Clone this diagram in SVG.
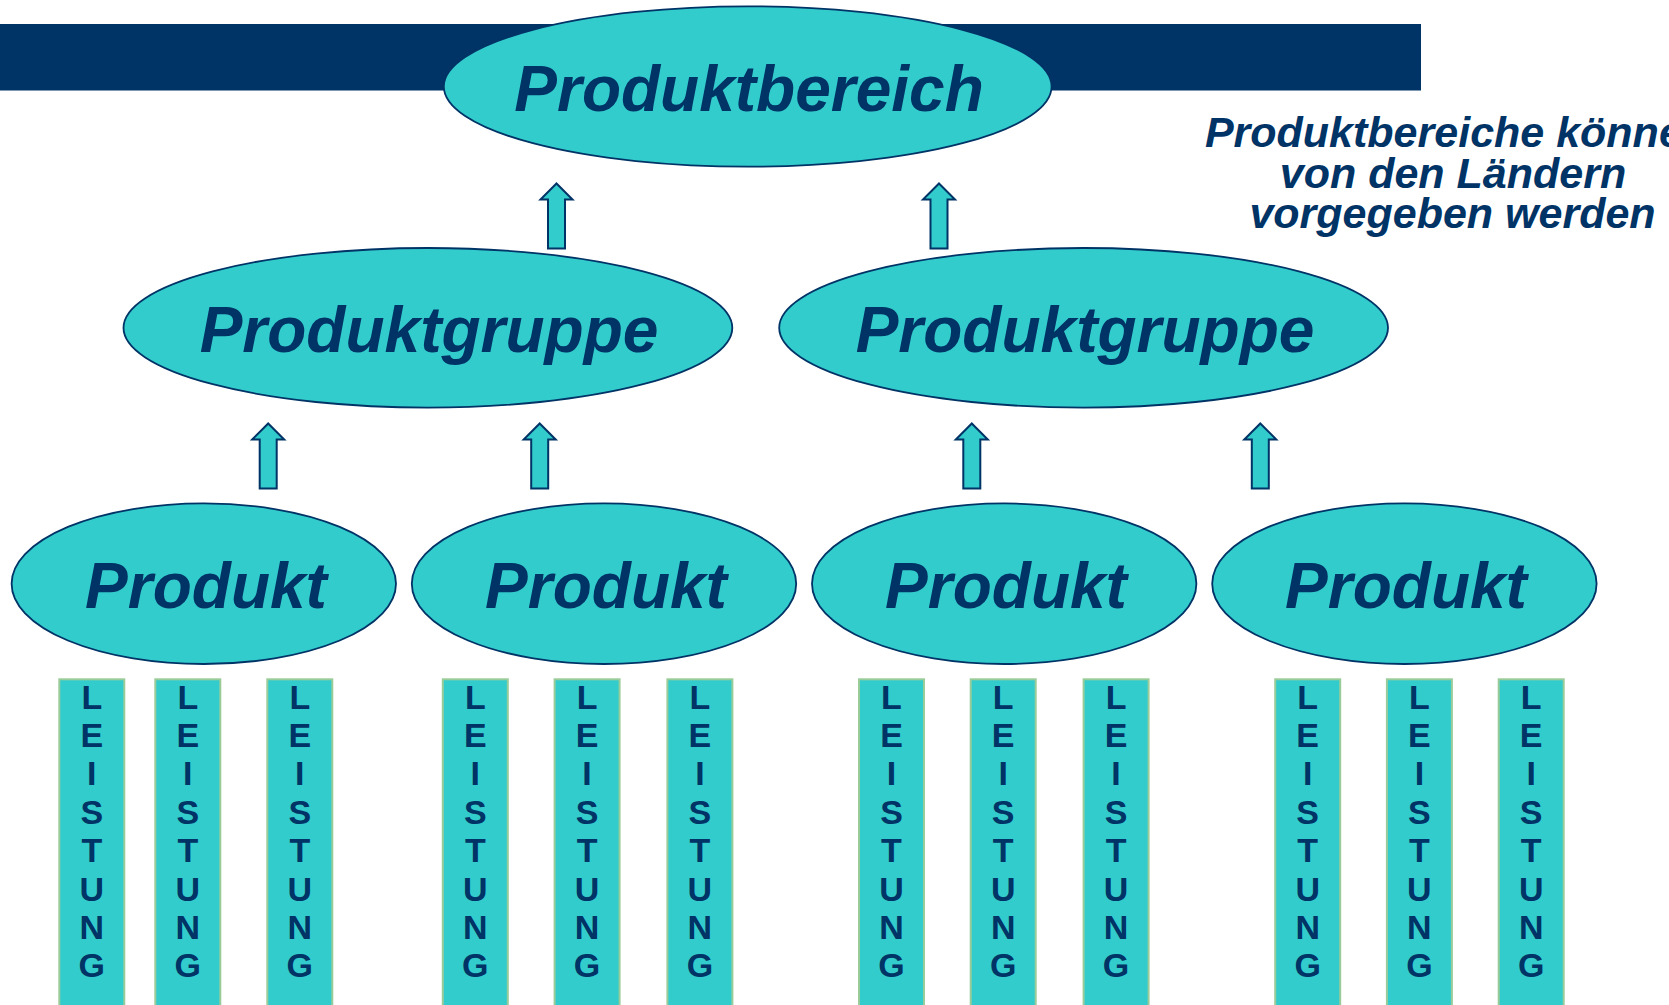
<svg xmlns="http://www.w3.org/2000/svg" width="1669" height="1005" viewBox="0 0 1669 1005">
<style>
.ell{fill:#33CCCC;stroke:#003366;stroke-width:1.8}
.big{font-family:"Liberation Sans",Arial,sans-serif;font-weight:bold;font-style:italic;font-size:64px;fill:#003366;text-anchor:middle}
.note{font-family:"Liberation Sans",Arial,sans-serif;font-weight:bold;font-style:italic;font-size:43px;fill:#003366;text-anchor:middle}
.box{fill:#33CCCC;stroke:#99CC99;stroke-width:2}
.let{font-family:"Liberation Sans",Arial,sans-serif;font-weight:bold;font-size:34px;fill:#003366;text-anchor:middle}
.arr{fill:#33CCCC;stroke:#003366;stroke-width:2;stroke-linejoin:miter}
</style>
<defs>
<path id="arrow" d="M0,0 L16,16 L8.5,16 L8.5,65 L-8.5,65 L-8.5,16 L-16,16 Z"/>
<g id="leistung">
<rect class="box" x="0" y="0" width="65" height="340"/>
<text class="let" x="32.5" y="30">L</text>
<text class="let" x="32.5" y="68">E</text>
<text class="let" x="32.5" y="106">I</text>
<text class="let" x="32.5" y="145">S</text>
<text class="let" x="32.5" y="183">T</text>
<text class="let" x="32.5" y="222">U</text>
<text class="let" x="32.5" y="260">N</text>
<text class="let" x="32.5" y="298">G</text>
</g>
</defs>
<rect id="bar" x="0" y="24" width="1421" height="66.5" fill="#003366"/>
<g id="produktbereich">
<ellipse class="ell" cx="747.7" cy="86.5" rx="303.9" ry="80.2"/>
<text class="big" x="749" y="111">Produktbereich</text>
</g>
<g id="note">
<text class="note" x="1457" y="147">Produktbereiche können</text>
<text class="note" x="1453" y="187.5">von den Ländern</text>
<text class="note" x="1452.5" y="228">vorgegeben werden</text>
</g>
<g id="produktgruppe1">
<ellipse class="ell" cx="427.9" cy="327.8" rx="304.4" ry="79.8"/>
<text class="big" x="429" y="352">Produktgruppe</text>
</g>
<g id="produktgruppe2">
<ellipse class="ell" cx="1083.6" cy="327.8" rx="304.4" ry="79.8"/>
<text class="big" x="1085" y="352">Produktgruppe</text>
</g>
<g id="produkt1">
<ellipse class="ell" cx="203.8" cy="583.7" rx="192.2" ry="80.3"/>
<text class="big" x="206" y="607.7">Produkt</text>
</g>
<g id="produkt2">
<ellipse class="ell" cx="604" cy="583.7" rx="192.2" ry="80.3"/>
<text class="big" x="606" y="607.7">Produkt</text>
</g>
<g id="produkt3">
<ellipse class="ell" cx="1004.2" cy="583.7" rx="192.2" ry="80.3"/>
<text class="big" x="1006" y="607.7">Produkt</text>
</g>
<g id="produkt4">
<ellipse class="ell" cx="1404.4" cy="583.7" rx="192.2" ry="80.3"/>
<text class="big" x="1406" y="607.7">Produkt</text>
</g>
<g id="connectors">
<use href="#arrow" class="arr" x="556.5" y="183.5"/>
<use href="#arrow" class="arr" x="939" y="183.5"/>
<use href="#arrow" class="arr" x="268.2" y="423.5"/>
<use href="#arrow" class="arr" x="539.7" y="423.5"/>
<use href="#arrow" class="arr" x="971.8" y="423.5"/>
<use href="#arrow" class="arr" x="1260.3" y="423.5"/>
</g>
<g id="leistungen">
<use id="l1" href="#leistung" x="59.3" y="679.3"/>
<use id="l2" href="#leistung" x="155.3" y="679.3"/>
<use id="l3" href="#leistung" x="267.3" y="679.3"/>
<use id="l4" href="#leistung" x="442.8" y="679.3"/>
<use id="l5" href="#leistung" x="554.6" y="679.3"/>
<use id="l6" href="#leistung" x="667.4" y="679.3"/>
<use id="l7" href="#leistung" x="859" y="679.3"/>
<use id="l8" href="#leistung" x="970.7" y="679.3"/>
<use id="l9" href="#leistung" x="1083.6" y="679.3"/>
<use id="l10" href="#leistung" x="1275.2" y="679.3"/>
<use id="l11" href="#leistung" x="1386.9" y="679.3"/>
<use id="l12" href="#leistung" x="1498.7" y="679.3"/>
</g>
</svg>
